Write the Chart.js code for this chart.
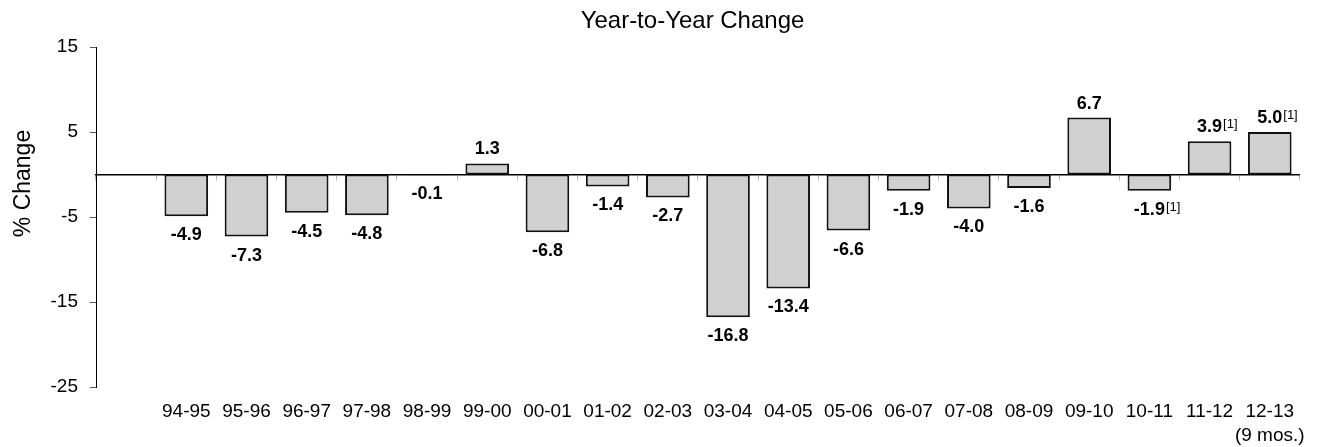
<!DOCTYPE html>
<html>
<head>
<meta charset="utf-8">
<title>Year-to-Year Change</title>
<script src="https://cdn.jsdelivr.net/npm/chart.js@4/dist/chart.umd.min.js"></script>
<style>
  html, body { margin: 0; padding: 0; background: #ffffff; }
  #wrap { width: 1318px; height: 447px; }
</style>
</head>
<body>
<div id="wrap"><canvas id="chart" width="1318" height="447"></canvas></div>
<script>
// Fiscal-year periods and their year-to-year percentage change
const categories = ['94-95', '95-96', '96-97', '97-98', '98-99', '99-00', '00-01', '01-02', '02-03',
  '03-04', '04-05', '05-06', '06-07', '07-08', '08-09', '09-10', '10-11', '11-12', '12-13'];
const changes = [-4.9, -7.3, -4.5, -4.8, -0.1, 1.3, -6.8, -1.4, -2.7,
  -16.8, -13.4, -6.6, -1.9, -4.0, -1.6, 6.7, -1.9, 3.9, 5.0];
// Periods whose value carries footnote [1]
const footnoted = ['10-11', '11-12', '12-13'];
const footnoteMark = '[1]';
// Second line under the last period label
const partialYearNote = { '12-13': '(9 mos.)' };
const yTicks = [15, 5, -5, -15, -25];
const chartTitle = 'Year-to-Year Change';
const yTitle = '% Change';

const FONT = '"Liberation Sans", Arial, Helvetica, sans-serif';

// A blank leading slot keeps the first bar away from the value axis
const axisLabels = [''].concat(categories.map(c => partialYearNote[c] ? [c, partialYearNote[c]] : c));
const seriesData = [null].concat(changes);
const periodOf = [''].concat(categories);

const textLayer = {
  id: 'textLayer',
  afterDatasetsDraw(chart) {
    const ctx = chart.ctx;
    const meta = chart.getDatasetMeta(0);
    ctx.save();
    ctx.fillStyle = '#000';
    meta.data.forEach((bar, i) => {
      const v = seriesData[i];
      if (v === null || v === undefined) return;
      const txt = v.toFixed(1);
      const cy = v >= 0 ? bar.y - 14 : bar.y + 19;
      ctx.font = 'bold 18px ' + FONT;
      ctx.textAlign = 'center';
      ctx.textBaseline = 'middle';
      ctx.fillText(txt, bar.x, cy);
      if (footnoted.includes(periodOf[i])) {
        const w = ctx.measureText(txt).width;
        ctx.font = '13px ' + FONT;
        ctx.textAlign = 'left';
        ctx.textBaseline = 'alphabetic';
        ctx.fillText(footnoteMark, bar.x + w / 2 + 1, cy + 1);
      }
    });
    ctx.restore();
  },
  afterDraw(chart) {
    const ctx = chart.ctx;
    ctx.save();
    ctx.fillStyle = '#000';
    ctx.font = '24px ' + FONT;
    ctx.textAlign = 'center';
    ctx.textBaseline = 'alphabetic';
    ctx.fillText(chartTitle, 692.5, 28);
    ctx.translate(30, 183.5);
    ctx.rotate(-Math.PI / 2);
    ctx.font = '23px ' + FONT;
    ctx.fillText(yTitle, 0, 0);
    ctx.restore();
  }
};

new Chart(document.getElementById('chart'), {
  type: 'bar',
  data: {
    labels: axisLabels,
    datasets: [{
      data: seriesData,
      xAxisID: 'x',
      yAxisID: 'y',
      backgroundColor: '#d0d0d0',
      borderColor: '#111111',
      borderWidth: 2,
      borderSkipped: false,
      barPercentage: 0.725,
      categoryPercentage: 1.0
    }]
  },
  options: {
    responsive: false,
    animation: false,
    devicePixelRatio: 1,
    layout: { padding: { top: 47, right: 16, bottom: 0, left: 0 } },
    plugins: {
      legend: { display: false },
      title: { display: false },
      tooltip: { enabled: false }
    },
    scales: {
      // zero line with small category separators
      x: {
        type: 'category',
        position: { y: 0 },
        offset: true,
        afterFit(scale) { scale.height = 0; },
        grid: { offset: true, drawOnChartArea: false, drawTicks: true, tickLength: 5, color: '#b8b8b8', lineWidth: 1 },
        border: { display: true, color: '#000', width: 1.5 },
        ticks: { display: false }
      },
      // period labels along the bottom
      xl: {
        type: 'category',
        position: 'bottom',
        offset: true,
        afterFit(scale) { scale.height = 60; },
        grid: { display: false, drawTicks: false },
        border: { display: false },
        ticks: {
          color: '#000',
          font: { family: FONT, size: 19, lineHeight: 1.25 },
          padding: 13,
          maxRotation: 0,
          minRotation: 0,
          autoSkip: false
        }
      },
      y: {
        type: 'linear',
        position: 'left',
        min: -25,
        max: 15,
        afterBuildTicks(scale) { scale.ticks = yTicks.map(v => ({ value: v })); },
        afterFit(scale) { scale.width = 96; },
        grid: { drawOnChartArea: false, drawTicks: true, tickLength: 6, color: '#555' },
        border: { display: true, color: '#000', width: 1 },
        ticks: {
          color: '#000',
          font: { family: FONT, size: 19 },
          padding: 12
        }
      }
    }
  },
  plugins: [textLayer]
});
</script>
</body>
</html>
